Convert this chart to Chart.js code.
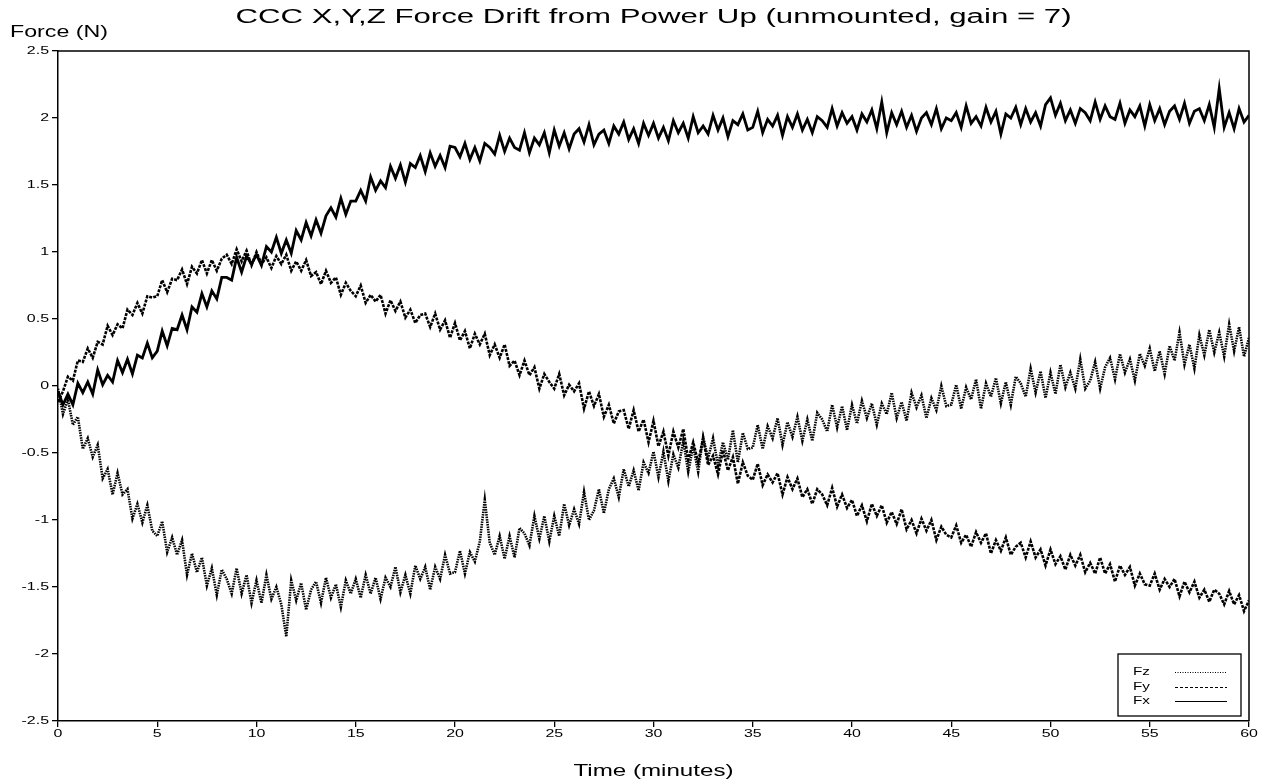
<!DOCTYPE html>
<html>
<head>
<meta charset="utf-8">
<script src="https://cdn.jsdelivr.net/npm/chart.js@4/dist/chart.umd.min.js"></script>
<style>
  html, body { margin: 0; padding: 0; background: #fff; }
  #wrap { width: 1263px; height: 784px; }
</style>
</head>
<body>
<div id="wrap"><canvas id="drift" width="1263" height="784"></canvas></div>
<script>
const chartTitle = "CCC X,Y,Z Force Drift from Power Up (unmounted, gain = 7)";
const xTitle = "Time (minutes)";
const yTitle = "Force (N)";

const xTicks = [0, 5, 10, 15, 20, 25, 30, 35, 40, 45, 50, 55, 60];
const yTicks = [-2.5, -2, -1.5, -1, -0.5, 0, 0.5, 1, 1.5, 2, 2.5];

// one reading every quarter minute, 0 .. 60 min
const SAMPLE_MINUTES = 0.25;

const fz = [
  -0.02, -0.21, -0.10, -0.29, -0.23, -0.47, -0.39, -0.53, -0.44, -0.69, -0.62, -0.81, -0.65, -0.81, -0.77, -0.99, -0.88, -1.02, -0.89, -1.08,
  -1.12, -1.01, -1.24, -1.13, -1.26, -1.15, -1.41, -1.25, -1.39, -1.28, -1.49, -1.36, -1.56, -1.37, -1.44, -1.55, -1.36, -1.55, -1.41, -1.62,
  -1.45, -1.62, -1.41, -1.59, -1.50, -1.63, -1.87, -1.45, -1.60, -1.47, -1.67, -1.52, -1.46, -1.62, -1.43, -1.58, -1.48, -1.65, -1.45, -1.55,
  -1.44, -1.58, -1.41, -1.55, -1.43, -1.59, -1.43, -1.50, -1.35, -1.54, -1.41, -1.55, -1.34, -1.44, -1.35, -1.52, -1.35, -1.44, -1.26, -1.40,
  -1.39, -1.23, -1.40, -1.24, -1.31, -1.16, -0.85, -1.17, -1.26, -1.12, -1.29, -1.12, -1.28, -1.06, -1.10, -1.19, -0.97, -1.14, -0.97, -1.16,
  -0.97, -1.12, -0.88, -1.04, -0.92, -1.03, -0.79, -1.00, -0.93, -0.77, -0.95, -0.77, -0.69, -0.83, -0.62, -0.75, -0.63, -0.78, -0.57, -0.65,
  -0.49, -0.68, -0.49, -0.71, -0.51, -0.61, -0.41, -0.64, -0.45, -0.64, -0.38, -0.54, -0.39, -0.59, -0.42, -0.55, -0.33, -0.57, -0.35, -0.47,
  -0.46, -0.29, -0.47, -0.30, -0.39, -0.24, -0.44, -0.27, -0.38, -0.23, -0.41, -0.25, -0.41, -0.20, -0.25, -0.34, -0.14, -0.31, -0.15, -0.33,
  -0.14, -0.28, -0.11, -0.24, -0.13, -0.29, -0.13, -0.21, -0.05, -0.24, -0.12, -0.26, -0.05, -0.16, -0.07, -0.24, -0.09, -0.18, 0.00, -0.15,
  -0.14, 0.01, -0.17, -0.01, -0.10, 0.05, -0.17, 0.02, -0.08, 0.06, -0.13, 0.03, -0.14, 0.07, 0.02, -0.08, 0.13, -0.05, 0.11, -0.09,
  0.10, -0.06, 0.16, -0.01, 0.10, -0.02, 0.20, -0.02, 0.04, 0.18, -0.02, 0.14, 0.21, 0.05, 0.24, 0.10, 0.20, 0.04, 0.24, 0.15,
  0.28, 0.11, 0.26, 0.09, 0.30, 0.19, 0.40, 0.16, 0.31, 0.13, 0.38, 0.23, 0.42, 0.25, 0.40, 0.22, 0.46, 0.26, 0.44, 0.22,
  0.36
];

const fy = [
  -0.12, -0.04, 0.07, 0.04, 0.19, 0.18, 0.28, 0.21, 0.33, 0.31, 0.45, 0.38, 0.46, 0.43, 0.57, 0.53, 0.62, 0.54, 0.67, 0.66,
  0.67, 0.79, 0.70, 0.80, 0.79, 0.87, 0.76, 0.89, 0.84, 0.94, 0.84, 0.94, 0.86, 0.95, 0.98, 0.91, 1.02, 0.93, 1.01, 0.90,
  1.00, 0.91, 0.96, 0.88, 0.97, 0.91, 0.98, 0.86, 0.93, 0.86, 0.94, 0.82, 0.85, 0.76, 0.86, 0.77, 0.81, 0.68, 0.77, 0.71,
  0.67, 0.75, 0.62, 0.68, 0.63, 0.68, 0.54, 0.64, 0.56, 0.63, 0.51, 0.57, 0.47, 0.53, 0.54, 0.44, 0.54, 0.42, 0.49, 0.36,
  0.47, 0.34, 0.41, 0.28, 0.39, 0.31, 0.39, 0.23, 0.31, 0.21, 0.31, 0.15, 0.19, 0.08, 0.19, 0.08, 0.14, -0.02, 0.09, 0.03,
  -0.02, 0.09, -0.07, 0.01, -0.04, 0.02, -0.17, -0.04, -0.15, -0.06, -0.23, -0.14, -0.28, -0.19, -0.18, -0.32, -0.18, -0.34, -0.25, -0.42,
  -0.26, -0.45, -0.34, -0.52, -0.34, -0.46, -0.32, -0.55, -0.42, -0.57, -0.39, -0.59, -0.52, -0.66, -0.48, -0.63, -0.53, -0.73, -0.57, -0.67,
  -0.70, -0.58, -0.74, -0.66, -0.72, -0.65, -0.81, -0.68, -0.77, -0.69, -0.83, -0.77, -0.88, -0.77, -0.81, -0.89, -0.76, -0.90, -0.81, -0.91,
  -0.85, -0.97, -0.89, -1.01, -0.88, -0.97, -0.89, -1.02, -0.94, -1.03, -0.92, -1.07, -1.00, -1.10, -0.99, -1.08, -1.00, -1.15, -1.05, -1.11,
  -1.13, -1.04, -1.17, -1.11, -1.20, -1.09, -1.17, -1.10, -1.25, -1.15, -1.23, -1.13, -1.26, -1.20, -1.17, -1.28, -1.16, -1.28, -1.22, -1.34,
  -1.22, -1.33, -1.27, -1.37, -1.26, -1.34, -1.26, -1.39, -1.32, -1.40, -1.28, -1.40, -1.33, -1.46, -1.34, -1.41, -1.35, -1.49, -1.40, -1.48,
  -1.49, -1.40, -1.52, -1.44, -1.50, -1.44, -1.57, -1.46, -1.54, -1.46, -1.58, -1.52, -1.61, -1.52, -1.55, -1.63, -1.53, -1.63, -1.56, -1.68,
  -1.60
];

const fx = [
  -0.04, -0.14, -0.06, -0.14, 0.02, -0.05, 0.03, -0.06, 0.12, 0.01, 0.08, 0.03, 0.19, 0.10, 0.20, 0.09, 0.23, 0.21, 0.32, 0.21,
  0.26, 0.41, 0.30, 0.43, 0.42, 0.53, 0.42, 0.59, 0.55, 0.69, 0.59, 0.71, 0.65, 0.81, 0.81, 0.79, 0.96, 0.85, 0.97, 0.91,
  0.98, 0.90, 1.04, 1.00, 1.11, 0.99, 1.09, 0.99, 1.16, 1.09, 1.22, 1.12, 1.24, 1.14, 1.27, 1.33, 1.26, 1.40, 1.28, 1.38,
  1.38, 1.46, 1.38, 1.56, 1.46, 1.53, 1.48, 1.64, 1.55, 1.65, 1.52, 1.66, 1.63, 1.72, 1.60, 1.74, 1.64, 1.72, 1.63, 1.79,
  1.78, 1.71, 1.81, 1.69, 1.78, 1.68, 1.81, 1.78, 1.73, 1.87, 1.75, 1.85, 1.78, 1.76, 1.89, 1.74, 1.85, 1.80, 1.89, 1.74,
  1.91, 1.79, 1.89, 1.77, 1.88, 1.92, 1.82, 1.95, 1.80, 1.88, 1.91, 1.81, 1.94, 1.88, 1.97, 1.84, 1.92, 1.81, 1.96, 1.87,
  1.96, 1.85, 1.93, 1.83, 1.98, 1.89, 1.96, 1.85, 2.01, 1.89, 1.94, 1.88, 2.02, 1.91, 2.00, 1.86, 1.98, 1.95, 2.03, 1.91,
  1.93, 2.05, 1.89, 1.99, 1.94, 2.02, 1.87, 2.01, 1.93, 2.03, 1.91, 1.99, 1.89, 2.01, 1.98, 1.93, 2.07, 1.94, 2.04, 1.96,
  2.01, 1.91, 2.03, 1.97, 2.06, 1.92, 2.12, 1.89, 2.04, 1.95, 2.05, 1.93, 2.02, 1.90, 2.00, 2.04, 1.95, 2.07, 1.92, 2.00,
  1.98, 2.04, 1.93, 2.09, 1.96, 2.01, 1.94, 2.08, 1.97, 2.05, 1.88, 2.03, 2.00, 2.08, 1.95, 2.07, 1.97, 2.04, 1.94, 2.10,
  2.15, 2.02, 2.11, 1.98, 2.06, 1.96, 2.07, 2.04, 1.98, 2.12, 1.99, 2.09, 2.01, 1.99, 2.11, 1.96, 2.06, 2.01, 2.09, 1.94,
  2.10, 1.98, 2.07, 1.95, 2.05, 2.09, 1.99, 2.11, 1.96, 2.05, 2.07, 1.98, 2.10, 1.93, 2.22, 1.93, 2.04, 1.92, 2.07, 1.97,
  2.02
];

const FONT = '"Liberation Sans", Arial, sans-serif';

function toPoints(values) {
  return values.map((v, i) => ({ x: i * SAMPLE_MINUTES, y: v }));
}

// the source image is stretched sideways, so text is drawn scaled in x
function wideText(ctx, text, x, y, size, sx, align, baseline) {
  ctx.save();
  ctx.font = size + "px " + FONT;
  ctx.fillStyle = "#000";
  ctx.textAlign = align;
  ctx.textBaseline = baseline;
  ctx.translate(x, y);
  ctx.scale(sx, 1);
  ctx.fillText(text, 0, 0);
  ctx.restore();
}

// legend swatches are finer than the heavy data traces
const legendDash = { Fz: [1, 1.5], Fy: [3, 2], Fx: [] };

const framePlugin = {
  id: "frame",
  afterDraw(chart) {
    const { ctx, chartArea: a, scales } = chart;

    // top and right edges of the box
    ctx.save();
    ctx.strokeStyle = "#000";
    ctx.lineWidth = 1.5;
    ctx.beginPath();
    ctx.moveTo(a.left, a.top);
    ctx.lineTo(a.right, a.top);
    ctx.lineTo(a.right, a.bottom);
    ctx.stroke();
    ctx.restore();

    xTicks.forEach(v => {
      wideText(ctx, String(v), scales.x.getPixelForValue(v), a.bottom + 7, 11, 1.45, "center", "top");
    });
    yTicks.forEach(v => {
      wideText(ctx, String(v), a.left - 9, scales.y.getPixelForValue(v), 11, 1.45, "right", "middle");
    });

    wideText(ctx, chartTitle, (a.left + a.right) / 2, 23, 20, 1.56, "center", "alphabetic");
    wideText(ctx, yTitle, 10, 37, 16, 1.45, "left", "alphabetic");
    wideText(ctx, xTitle, (a.left + a.right) / 2, 776, 17, 1.42, "center", "alphabetic");

    // legend box, bottom right inside the plot
    const bx = a.right - 131, by = a.bottom - 67, bw = 123, bh = 62;
    ctx.save();
    ctx.fillStyle = "#fff";
    ctx.fillRect(bx, by, bw, bh);
    ctx.strokeStyle = "#000";
    ctx.lineWidth = 1.3;
    ctx.strokeRect(bx, by, bw, bh);
    chart.data.datasets.forEach((ds, i) => {
      const rowY = Math.round(by + 18 + i * 14.5) + 0.5;
      wideText(ctx, ds.label, bx + 15, rowY, 10.5, 1.45, "left", "middle");
      ctx.save();
      ctx.strokeStyle = "#000";
      ctx.lineWidth = 1.2;
      ctx.setLineDash(legendDash[ds.label]);
      ctx.beginPath();
      ctx.moveTo(bx + 57, rowY);
      ctx.lineTo(bx + 109, rowY);
      ctx.stroke();
      ctx.restore();
    });
    ctx.restore();
  }
};

const axisStyle = (ticks) => ({
  type: "linear",
  afterBuildTicks: scale => { scale.ticks = ticks.map(v => ({ value: v })); },
  ticks: { display: false },
  grid: { drawOnChartArea: false, drawTicks: true, tickLength: 6, color: "#000", lineWidth: 1.3 },
  border: { display: true, color: "#000", width: 1.5 }
});

new Chart(document.getElementById("drift").getContext("2d"), {
  type: "line",
  data: {
    datasets: [
      { label: "Fz", data: toPoints(fz), borderColor: "#000", borderWidth: 2.6, borderDash: [1.5, 1] },
      { label: "Fy", data: toPoints(fy), borderColor: "#000", borderWidth: 2.6, borderDash: [3, 1.2] },
      { label: "Fx", data: toPoints(fx), borderColor: "#000", borderWidth: 2.8 }
    ]
  },
  options: {
    responsive: false,
    animation: false,
    events: [],
    elements: { point: { radius: 0 }, line: { tension: 0, borderJoinStyle: "miter" } },
    layout: { padding: { left: 52, right: 14, top: 51, bottom: 57 } },
    plugins: { legend: { display: false }, title: { display: false }, tooltip: { enabled: false } },
    scales: {
      x: { ...axisStyle(xTicks), min: 0, max: 60 },
      y: { ...axisStyle(yTicks), min: -2.5, max: 2.5 }
    }
  },
  plugins: [framePlugin]
});
</script>
</body>
</html>
